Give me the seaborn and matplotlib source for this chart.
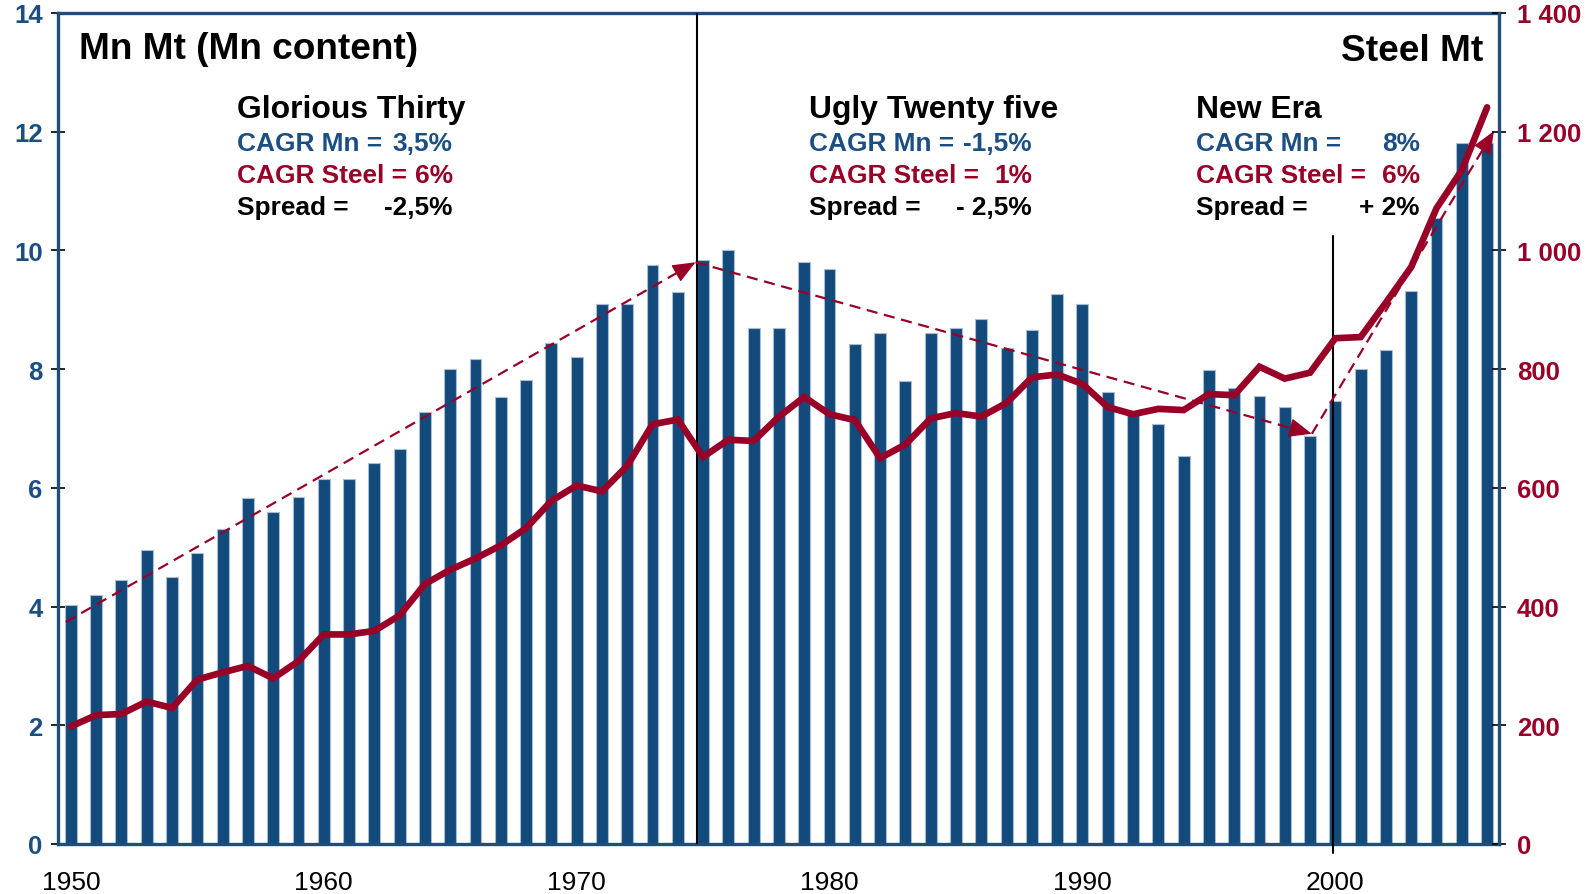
import matplotlib
matplotlib.use("Agg")
import matplotlib.pyplot as plt
from matplotlib import font_manager as fm
import numpy as np
import pandas as pd
import seaborn as sns

# ---------------- data ----------------
years = list(range(1950, 2007))
mn_mt = [4.02, 4.20, 4.45, 4.95, 4.50, 4.90, 5.30, 5.83, 5.60, 5.85,
         6.15, 6.15, 6.42, 6.65, 7.27, 8.00, 8.17, 7.53, 7.82, 8.44,
         8.20, 9.09, 9.09, 9.76, 9.30, 9.84, 10.01, 8.70, 8.70, 9.80,
         9.69, 8.42, 8.60, 7.80, 8.61, 8.70, 8.85, 8.35, 8.66, 9.26,
         9.09, 7.62, 7.24, 7.08, 6.54, 7.98, 7.68, 7.55, 7.36, 6.88,
         7.46, 8.01, 8.32, 9.31, 10.54, 11.81, 11.81]
steel_mt = [198, 217, 219, 240, 229, 277, 289, 300, 279, 308,
            353, 353, 359, 385, 438, 462, 481, 503, 532, 578,
            604, 594, 637, 707, 715, 652, 681, 679, 720, 753,
            724, 714, 650, 673, 717, 726, 720, 743, 786, 791,
            775, 736, 724, 733, 731, 758, 756, 804, 784, 794,
            852, 854, 912, 972, 1071, 1135, 1241]

x_ticks = [1950, 1960, 1970, 1980, 1990, 2000]
left_ticks = [0, 2, 4, 6, 8, 10, 12, 14]
right_ticks = [0, 200, 400, 600, 800, 1000, 1200, 1400]
right_labels = ["0", "200", "400", "600", "800", "1 000", "1 200", "1 400"]

# trend arrows (year, Mn Mt)
trend_points = [(1949.8, 3.74), (1974.7, 9.80), (1999.07, 6.91), (2006.27, 12.01)]
period_lines = [1974.75, 1999.9]

blocks = [
    ("Glorious Thirty", ["3,5%", "6%", "-2,5%"]),
    ("Ugly Twenty five", ["-1,5%", "1%", "- 2,5%"]),
    ("New Era", ["8%", "6%", "+ 2%"]),
]
row_labels = ["CAGR Mn =", "CAGR Steel =", "Spread ="]

# ---------------- style ----------------
BLUE = "#134A7C"
BLUE_TXT = "#1B4F84"
MAROON = "#990028"
SPINE = "#1F4E79"

sns.set_style("white")
names = {f.name for f in fm.fontManager.ttflist}
NARROW = "Liberation Sans Narrow" if "Liberation Sans Narrow" in names else None
plt.rcParams["font.family"] = ["Liberation Sans", "DejaVu Sans"]
plt.rcParams["text.color"] = "black"
k = 1.0 if NARROW else 0.82
narrow_fam = [NARROW, "Liberation Sans"] if NARROW else ["Liberation Sans", "DejaVu Sans"]

df = pd.DataFrame({"year": years, "mn": mn_mt, "steel": steel_mt})

fig = plt.figure(figsize=(15.96, 8.95), dpi=100)
ax = fig.add_axes([0.0363, 0.0559, 0.9392 - 0.0363, 0.9844 - 0.0559])

sns.barplot(data=df, x="year", y="mn", native_scale=True, width=0.47,
            color=BLUE, saturation=1, edgecolor="#A9BCD0", linewidth=0.8, ax=ax)
ax.set_xlim(1949.49, 2006.47)
ax.set_ylim(0, 14)
ax.set_xlabel("")
ax.set_ylabel("")

ax2 = ax.twinx()
sns.lineplot(data=df, x="year", y="steel", color=MAROON, linewidth=4.8, ax=ax2,
             solid_joinstyle="miter", zorder=5)
ax2.set_ylim(0, 1400)
ax2.set_xlim(1949.49, 2006.47)
ax2.set_ylabel("")
ax2.set_xlabel("")

# ticks
ax.set_xticks(x_ticks, labels=[str(t) for t in x_ticks], fontsize=19, color="black")
ax.tick_params(axis="x", length=0, pad=19)
ax.set_yticks(left_ticks, labels=[str(t) for t in left_ticks], fontsize=18.5,
              fontweight="bold", color=BLUE_TXT)
ax.tick_params(axis="y", direction="inout", length=10, width=1.2, color="black", pad=6)
ax2.set_yticks(right_ticks, labels=right_labels, fontsize=18.5, fontweight="bold", color=MAROON)
ax2.tick_params(axis="y", direction="inout", length=10, width=1.2, color="black", pad=8)

for s in ["left", "top", "bottom"]:
    ax.spines[s].set_color(SPINE)
    ax.spines[s].set_linewidth(2.4)
ax.spines["right"].set_visible(False)
for s in ["left", "top", "bottom"]:
    ax2.spines[s].set_visible(False)
ax2.spines["right"].set_color(SPINE)
ax2.spines["right"].set_linewidth(2.4)

# period separators
ax.axvline(period_lines[0], ymin=0, ymax=1, color="black", lw=1.5, zorder=4)
ax.plot([period_lines[1], period_lines[1]], [-0.15, 10.24], color="black", lw=1.5,
        zorder=4, clip_on=False)

# dashed trend lines with solid arrow heads
for (x0, y0), (x1, y1) in zip(trend_points[:-1], trend_points[1:]):
    ax.plot([x0, x1], [y0, y1], color=MAROON, lw=1.6, linestyle=(0, (5, 3)), zorder=4)
    dx, dy = x1 - x0, y1 - y0
    ax.annotate("", xy=(x1, y1), xytext=(x1 - dx * 0.01, y1 - dy * 0.01),
                arrowprops=dict(arrowstyle="-|>,head_length=0.6,head_width=0.25",
                                color=MAROON, lw=1.0, mutation_scale=24,
                                shrinkA=0, shrinkB=0), zorder=4)

# titles
ax.text(0.0146, 0.9458, "Mn Mt (Mn content)", transform=ax.transAxes, ha="left",
        va="baseline", fontsize=32.5 * k, fontweight="bold", family=narrow_fam, color="black")
ax.text(0.9889, 0.9434, "Steel Mt", transform=ax.transAxes, ha="right",
        va="baseline", fontsize=32.5 * k, fontweight="bold", family=narrow_fam, color="black")

block_x = [(0.1242, 0.2741), (0.5212, 0.6760), (0.7900, 0.9450)]
row_y = [0.8351, 0.7966, 0.7581]
row_colors = [BLUE_TXT, MAROON, "black"]
for (title, vals), (x0, x1) in zip(blocks, block_x):
    ax.text(x0, 0.8748, title, transform=ax.transAxes, ha="left", va="baseline",
            fontsize=28 * k, fontweight="bold", family=narrow_fam, color="black")
    for lab, val, yy, c in zip(row_labels, vals, row_y, row_colors):
        ax.text(x0, yy, lab, transform=ax.transAxes, ha="left", va="baseline",
                fontsize=23 * k, fontweight="bold", color=c, family=narrow_fam)
        ax.text(x1, yy, val, transform=ax.transAxes, ha="right", va="baseline",
                fontsize=23 * k, fontweight="bold", color=c, family=narrow_fam)

fig.savefig("out.png", dpi=100)
